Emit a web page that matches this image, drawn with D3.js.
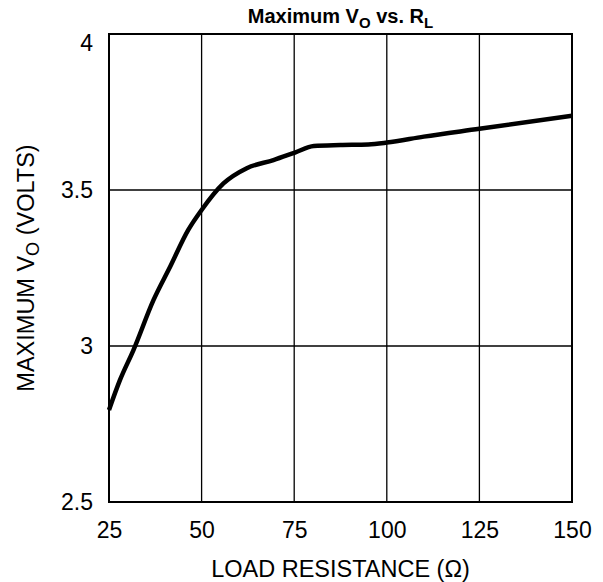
<!DOCTYPE html>
<html>
<head>
<meta charset="utf-8">
<script src="https://cdn.jsdelivr.net/npm/d3@7"></script>
<style>
  body { margin: 0; background: #fff; }
  text { font-family: "Liberation Sans", Arial, sans-serif; fill: #000; }
</style>
</head>
<body>
<div id="chart"></div>
<script>
// data
var resistance = [25, 28, 31.6, 37, 41.5, 46.4, 50, 55.9, 62.2, 69.4, 75.2, 80.3, 87.5, 95, 100, 110, 125, 150];
var vout = [2.795, 2.892, 2.987, 3.147, 3.254, 3.372, 3.436, 3.521, 3.570, 3.596, 3.620, 3.641, 3.644, 3.646, 3.652, 3.671, 3.696, 3.738];
var xTicks = [25, 50, 75, 100, 125, 150];
var yTicks = [2.5, 3, 3.5, 4];

var width = 603, height = 582;
var margin = {left: 109, right: 31, top: 34, bottom: 80};

var svg = d3.select("#chart").append("svg")
    .attr("width", width)
    .attr("height", height);

var x = d3.scaleLinear().domain([25, 150]).range([margin.left, width - margin.right]);
var y = d3.scaleLinear().domain([2.5, 4]).range([height - margin.bottom, margin.top]);

// grid
svg.append("g").selectAll("line")
    .data(xTicks)
    .enter().append("line")
    .attr("x1", function (d) { return x(d); })
    .attr("x2", function (d) { return x(d); })
    .attr("y1", y(2.5))
    .attr("y2", y(4))
    .attr("stroke", "#000")
    .attr("stroke-width", 1.3);

svg.append("g").selectAll("line")
    .data(yTicks)
    .enter().append("line")
    .attr("x1", x(25))
    .attr("x2", x(150))
    .attr("y1", function (d) { return y(d); })
    .attr("y2", function (d) { return y(d); })
    .attr("stroke", "#000")
    .attr("stroke-width", 1.3);

// frame
svg.append("rect")
    .attr("x", x(25))
    .attr("y", y(4))
    .attr("width", x(150) - x(25))
    .attr("height", y(2.5) - y(4))
    .attr("fill", "none")
    .attr("stroke", "#000")
    .attr("stroke-width", 2);

// tick labels
var xAxis = svg.append("g")
    .attr("transform", "translate(0," + y(2.5) + ")")
    .call(d3.axisBottom(x).tickValues(xTicks).tickSize(0).tickPadding(20).tickFormat(d3.format("d")));
xAxis.select(".domain").remove();
xAxis.selectAll("text").attr("font-size", "23px").attr("font-family", "Liberation Sans, Arial, sans-serif");

var yAxis = svg.append("g")
    .attr("transform", "translate(" + x(25) + ",0)")
    .call(d3.axisLeft(y).tickValues(yTicks).tickSize(0).tickPadding(16).tickFormat(function (d) { return d; }));
yAxis.select(".domain").remove();
yAxis.selectAll("text").attr("font-size", "23px").attr("font-family", "Liberation Sans, Arial, sans-serif");
// top label sits a bit lower than its gridline
yAxis.selectAll(".tick").filter(function (d) { return d === 4; })
    .select("text").attr("dy", "0.7em");

// curve
var line = d3.line()
    .x(function (d, i) { return x(resistance[i]); })
    .y(function (d) { return y(d); })
    .curve(d3.curveMonotoneX);

svg.append("path")
    .datum(vout)
    .attr("d", line)
    .attr("fill", "none")
    .attr("stroke", "#000")
    .attr("stroke-width", 4.5)
    .attr("stroke-linejoin", "round");

// title
var title = svg.append("text")
    .attr("x", (x(25) + x(150)) / 2)
    .attr("y", 23)
    .attr("text-anchor", "middle")
    .attr("font-size", "20px")
    .attr("font-weight", "bold");
title.append("tspan").text("Maximum V");
title.append("tspan").text("O").attr("font-size", "15px").attr("dy", 5);
title.append("tspan").text(" vs. R").attr("dy", -5);
title.append("tspan").text("L").attr("font-size", "15px").attr("dy", 5);

// x title
svg.append("text")
    .attr("x", (x(25) + x(150)) / 2)
    .attr("y", 577)
    .attr("text-anchor", "middle")
    .attr("font-size", "23.5px")
    .text("LOAD RESISTANCE (\u03A9)");

// y title
var yt = svg.append("text")
    .attr("transform", "translate(34," + ((y(2.5) + y(4)) / 2) + ") rotate(-90)")
    .attr("text-anchor", "middle")
    .attr("font-size", "23.5px");
yt.append("tspan").text("MAXIMUM V");
yt.append("tspan").text("O").attr("font-size", "18px").attr("dy", 5);
yt.append("tspan").text(" (VOLTS)").attr("dy", -5);
</script>
</body>
</html>
